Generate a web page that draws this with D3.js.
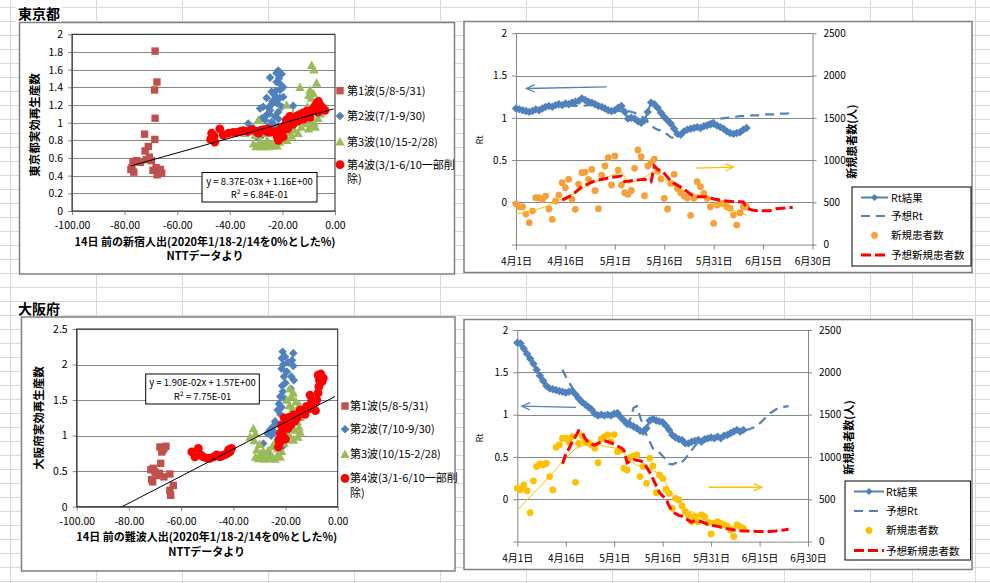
<!DOCTYPE html>
<html><head><meta charset="utf-8">
<script src="https://cdn.jsdelivr.net/npm/d3@7"></script>
<style>
body{margin:0;background:#fff;}
svg{display:block;font-family:"Noto Sans CJK JP","Noto Sans",sans-serif;}
</style></head><body>
<svg id="c" width="990" height="583"></svg>
<script>
// ---------------- DATA ----------------
const xTickVals=[-100,-80,-60,-40,-20,0];
const tokyoYTicks=[0,0.2,0.4,0.6,0.8,1,1.2,1.4,1.6,1.8,2];
const osakaYTicks=[0,0.5,1,1.5,2,2.5];
const waveNamesTokyo=["第1波(5/8-5/31)","第2波(7/1-9/30)","第3波(10/15-2/28)","第4波(3/1-6/10一部削","除)"];
const waveNamesOsaka=["第1波(5/8-5/31)","第2波(7/10-9/30)","第3波(10/15-2/28)","第4波(3/1-6/10一部削","除)"];

const tokyoWave1=[[-68.4,1.81],[-67.7,1.46],[-68.6,1.37],[-68.4,1.05],[-72.4,0.87],[-68.5,0.81],[-71.0,0.73],[-72.2,0.68],[-70.6,0.61],[-71.8,0.58],[-69.8,0.57],[-75.4,0.57],[-76.8,0.56],[-74.0,0.55],[-77.6,0.47],[-76.5,0.44],[-77.2,0.49],[-69.2,0.46],[-67.2,0.44],[-65.9,0.43],[-67.6,0.41],[-66.4,0.47],[-68.0,0.49]];
const tokyoWave2=[[-21.6,1.59],[-20.3,1.55],[-22.3,1.56],[-24.7,1.51],[-22.2,1.46],[-20.6,1.43],[-19.7,1.40],[-20.9,1.37],[-24.1,1.35],[-23.0,1.31],[-26.0,1.28],[-23.2,1.26],[-21.0,1.28],[-19.7,1.29],[-22.0,1.22],[-24.0,1.21],[-27.3,1.18],[-28.5,1.16],[-24.7,1.14],[-21.6,1.12],[-20.2,1.18],[-26.0,1.09],[-22.8,1.07],[-25.0,1.10],[-26.6,1.03],[-24.1,1.01],[-21.5,1.04],[-23.3,0.98],[-33.0,0.99],[-31.1,0.94],[-29.8,0.84],[-27.5,0.86],[-25.6,0.95],[-15.9,1.19],[-22.6,0.92],[-27.8,1.05],[-23.8,1.24],[-25.3,1.17],[-22.5,1.36],[-21.3,1.50]];
const tokyoWave3=[[-31.0,0.76],[-30.0,0.73],[-29.0,0.75],[-28.2,0.73],[-27.5,0.76],[-26.8,0.73],[-26.0,0.75],[-25.2,0.73],[-24.5,0.76],[-23.8,0.74],[-23.0,0.77],[-22.0,0.74],[-28.5,0.79],[-25.8,0.80],[-21.0,0.78],[-20.0,0.82],[-19.0,0.83],[-18.2,0.80],[-34.2,0.88],[-33.0,0.90],[-30.4,0.86],[-29.2,1.03],[-27.0,0.88],[-8.9,1.65],[-8.0,1.60],[-7.0,1.45],[-13.3,1.40],[-9.5,1.37],[-10.0,1.31],[-9.0,1.28],[-8.2,1.33],[-18.4,1.20],[-16.0,1.10],[-14.5,1.05],[-12.5,1.08],[-11.0,1.04],[-17.0,0.89],[-15.5,0.92],[-14.0,0.88],[-12.8,0.95],[-10.0,0.93],[-9.0,0.97],[-8.0,1.00],[-7.5,0.95],[-11.5,0.99],[-6.5,1.05],[-5.5,1.10],[-16.5,0.85],[-13.5,1.00],[-10.5,1.18],[-8.5,1.20],[-7.0,1.15]];
const tokyoWave4=[[-46.9,0.88],[-47.3,0.81],[-45.7,0.78],[-46.0,0.85],[-43.8,0.93],[-42.5,0.86],[-38.7,0.89],[-37.2,0.89],[-36.0,0.90],[-34.9,0.91],[-31.7,0.92],[-30.0,0.90],[-28.5,0.91],[-27.3,0.92],[-26.0,0.90],[-24.8,0.89],[-23.5,0.90],[-22.5,0.88],[-22.0,0.84],[-21.2,0.82],[-20.5,0.86],[-19.7,0.84],[-20.0,0.90],[-19.1,0.97],[-18.5,1.03],[-17.8,1.00],[-17.2,1.07],[-16.3,1.06],[-15.3,1.05],[-14.2,1.08],[-13.3,1.09],[-12.1,1.11],[-11.4,1.07],[-10.8,1.13],[-10.0,1.10],[-8.9,1.14],[-8.2,1.16],[-7.6,1.18],[-6.9,1.22],[-6.3,1.24],[-5.8,1.20],[-5.1,1.18],[-4.5,1.16],[-3.8,1.14],[-5.7,1.14],[-6.5,1.12],[-9.5,1.06],[-12.0,1.04],[-14.0,1.02],[-16.0,0.98],[-18.0,0.93],[-21.5,0.80],[-20.8,0.93],[-25.5,0.93],[-29.0,0.88],[-33.2,0.90],[-40.5,0.88]];

const osakaWave1=[[-68.1,0.84],[-66.6,0.82],[-65.8,0.85],[-67.4,0.77],[-67.0,0.80],[-67.8,0.61],[-70.7,0.54],[-71.6,0.52],[-70.0,0.49],[-68.3,0.47],[-69.5,0.44],[-66.6,0.42],[-64.3,0.46],[-71.3,0.38],[-70.9,0.35],[-63.0,0.30],[-64.3,0.23],[-64.0,0.16]];
const osakaWave2=[[-21.1,2.18],[-17.0,2.16],[-20.2,2.11],[-21.4,2.09],[-17.5,2.06],[-19.0,2.03],[-20.8,2.00],[-17.0,1.98],[-21.5,1.94],[-19.5,1.90],[-17.8,1.83],[-20.6,1.83],[-16.8,1.78],[-20.0,1.74],[-21.3,1.70],[-18.0,1.66],[-21.0,1.62],[-22.0,1.55],[-20.3,1.52],[-22.5,1.45],[-21.5,1.40],[-23.0,1.36],[-22.0,1.30],[-24.0,1.20],[-25.0,1.12],[-26.0,1.08],[-27.0,1.03],[-25.5,1.00],[-24.2,1.05],[-28.5,0.89],[-27.0,0.74],[-23.0,0.95],[-21.0,0.85],[-19.0,1.00],[-22.5,1.15]];
const osakaWave3=[[-32.3,1.10],[-31.5,1.03],[-33.6,0.98],[-32.0,0.93],[-30.0,0.88],[-31.0,0.80],[-29.5,0.75],[-31.5,0.70],[-30.5,0.68],[-29.0,0.70],[-28.0,0.67],[-27.0,0.72],[-26.0,0.68],[-25.0,0.70],[-24.0,0.67],[-23.0,0.73],[-22.0,0.70],[-28.5,0.78],[-26.5,0.80],[-25.0,0.85],[-24.0,0.90],[-23.0,0.82],[-21.5,0.78],[-20.5,0.90],[-19.5,0.95],[-18.3,1.66],[-17.0,1.60],[-17.8,1.55],[-19.5,1.50],[-16.0,1.48],[-14.7,1.43],[-18.5,1.42],[-17.2,1.38],[-16.0,1.33],[-14.4,1.26],[-15.5,1.20],[-14.8,1.12],[-14.4,1.05],[-16.5,1.08],[-17.0,0.94],[-18.5,1.00],[-20.0,1.05],[-19.0,1.15],[-17.5,1.25],[-15.2,0.98]];
const osakaWave4=[[-55.9,0.77],[-53.4,0.82],[-54.7,0.70],[-51.5,0.70],[-52.5,0.73],[-50.0,0.68],[-49.0,0.68],[-47.5,0.70],[-46.4,0.73],[-45.2,0.70],[-44.2,0.72],[-43.3,0.73],[-42.3,0.75],[-41.3,0.77],[-40.7,0.82],[-41.8,0.80],[-22.7,0.84],[-22.2,0.90],[-22.5,0.93],[-21.8,0.98],[-22.0,1.03],[-21.3,1.08],[-20.8,1.12],[-20.0,1.17],[-19.5,1.22],[-21.5,1.15],[-20.5,1.25],[-18.5,1.26],[-17.5,1.22],[-16.5,1.20],[-17.0,1.29],[-15.5,1.25],[-14.4,1.36],[-13.0,1.33],[-11.9,1.41],[-10.8,1.38],[-10.0,1.48],[-10.6,1.57],[-9.0,1.45],[-8.0,1.50],[-7.5,1.60],[-7.2,1.69],[-7.0,1.78],[-7.5,1.85],[-6.5,1.87],[-5.5,1.81],[-6.0,1.76],[-8.5,1.35],[-12.5,1.30],[-19.0,1.10],[-18.0,1.15],[-21.0,1.00],[-20.0,0.95]];

// trendlines (from the chart's own equations)
const tokyoTrend={slope:8.37e-3,intercept:1.16,from:-77.5,to:-0.5,eq:"y = 8.37E-03x + 1.16E+00",r2:"R² = 6.84E-01"};
const osakaTrend={slope:1.90e-2,intercept:1.57,from:-82.6,to:-1,eq:"y = 1.90E-02x + 1.57E+00",r2:"R² = 7.75E-01"};

// Rt charts (day 0 = 4月1日)
const dateTickDays=[0,15,30,45,60,75,90];
const dateTickLabels=["4月1日","4月16日","5月1日","5月16日","5月31日","6月15日","6月30日"];
const rtTickVals=[-0.5,0,0.5,1,1.5,2];
const caseTickVals=[0,500,1000,1500,2000,2500];
const rtLegend=["Rt結果","予想Rt","新規患者数","予想新規患者数"];

const tokyoRt=[1.11,1.10,1.09,1.08,1.07,1.08,1.10,1.09,1.11,1.13,1.14,1.13,1.15,1.16,1.15,1.17,1.16,1.18,1.19,1.20,1.23,1.21,1.19,1.18,1.16,1.14,1.13,1.11,1.09,1.08,1.09,1.12,1.14,1.07,0.99,1.00,0.99,0.96,0.94,0.97,1.07,1.18,1.16,1.12,1.06,1.01,0.97,0.93,0.87,0.81,0.80,0.84,0.86,0.87,0.88,0.89,0.88,0.90,0.91,0.92,0.93,0.91,0.89,0.87,0.84,0.82,0.81,0.82,0.83,0.86,0.88];
const tokyoRtPred=[[16,1.15],[18,1.14],[20,1.14],[22,1.15],[24,1.15],[26,1.13],[28,1.10],[30,1.09],[32,1.08],[34,1.08],[36,1.06],[37,1.04],[38,1.02],[39,0.99],[40,0.95],[41,0.91],[42,0.88],[43,0.86],[44,0.85],[45,0.83],[46,0.80],[47,0.77],[48,0.76],[49,0.78],[50,0.80],[52,0.84],[54,0.87],[56,0.90],[58,0.94],[60,0.97],[62,0.99],[64,1.00],[66,1.01],[68,1.02],[70,1.02],[72,1.03],[74,1.03],[76,1.04],[78,1.04],[80,1.05],[82,1.05],[84,1.06]];
const tokyoCases=[480,448,448,361,259,397,555,555,535,574,421,298,515,586,732,673,772,535,417,716,851,858,772,890,638,425,823,930,1028,705,1048,882,705,614,594,640,902,1119,1040,578,930,969,1012,870,776,547,421,724,831,665,614,574,551,346,547,744,685,606,547,448,251,468,488,488,448,429,349,231,377,448,448];
const tokyoCasesAvg=[[0,360],[3,385],[6,410],[9,450],[12,510],[15,560],[18,610],[21,680],[24,740],[27,790],[30,830],[32,860],[33,800],[34,725],[36,750],[38,770],[40,820],[42,880],[44,800],[46,750],[48,690],[50,655],[53,610],[56,580],[59,490],[62,460],[65,415],[68,380],[70,345]];
const tokyoCasesPred=[[14,527],[17,586],[20,685],[23,740],[25,764],[27,780],[29,795],[31,805],[32,811],[33,744],[35,756],[37,765],[39,772],[41,744],[42,930],[43,890],[45,843],[47,750],[48,724],[50,680],[52,626],[54,567],[56,567],[58,567],[60,540],[62,527],[64,515],[66,507],[68,507],[69,505],[70,429],[72,405],[74,400],[77,401],[79,425],[82,435],[84,440]];
const tokyoArrows=[{x1:27.5,v1:1.366,x2:3.2,v2:1.347,kind:"rt"},{x1:54.6,v1:905,x2:66.0,v2:917,kind:"case"}];

const osakaRt=[1.85,1.84,1.78,1.72,1.66,1.60,1.53,1.46,1.40,1.34,1.31,1.30,1.29,1.28,1.27,1.26,1.27,1.28,1.24,1.19,1.15,1.12,1.09,1.06,1.01,0.99,1.00,0.99,1.00,0.99,1.01,1.02,0.97,0.93,0.89,0.88,0.86,0.84,0.81,0.80,0.84,0.93,0.95,0.93,0.92,0.91,0.87,0.82,0.76,0.73,0.71,0.70,0.66,0.66,0.68,0.69,0.70,0.68,0.71,0.72,0.73,0.72,0.74,0.72,0.75,0.76,0.78,0.80,0.82,0.80,0.82];
const osakaRtPred=[[14,1.53],[15,1.45],[16,1.38],[17,1.32],[18,1.26],[20,1.16],[22,1.09],[24,1.02],[26,1.00],[28,0.99],[30,1.00],[32,0.96],[34,0.88],[35,0.95],[36,1.08],[37,1.10],[38,0.98],[39,0.86],[40,0.76],[41,0.68],[42,0.60],[43,0.57],[44,0.55],[45,0.51],[46,0.47],[47,0.42],[48,0.41],[49,0.43],[50,0.41],[51,0.44],[52,0.48],[53,0.53],[54,0.58],[55,0.63],[56,0.67],[58,0.70],[60,0.72],[62,0.73],[64,0.75],[66,0.77],[68,0.80],[70,0.81],[72,0.83],[74,0.86],[76,0.93],[78,1.01],[80,1.06],[82,1.09],[84,1.10]];
const osakaCases=[630,610,669,602,342,716,886,917,905,925,768,610,1114,1142,1221,1221,1181,1240,700,1161,1248,1181,1169,1142,1102,933,1213,1240,1260,1181,1264,1063,1083,866,846,996,1010,1024,768,886,689,984,894,578,787,748,618,570,393,511,492,421,354,314,235,295,235,314,295,224,90,216,235,216,196,184,137,60,196,176,157];
const osakaCasesAvg=[[0,370],[3,490],[7,650],[11,810],[14,945],[16,1024],[18,1100],[20,1130],[22,1140],[25,1140],[28,1120],[31,1100],[33,1070],[34,1000],[35,950],[37,900],[40,880],[43,820],[45,760],[47,620],[49,500],[51,430],[53,370],[56,320],[60,250],[64,200],[68,160],[70,140]];
const osakaCasesPred=[[14,921],[15,1030],[16,1100],[17,1180],[18,1240],[19,1310],[20,1290],[21,1220],[22,1170],[23,1150],[24,1140],[25,1160],[26,1180],[27,1190],[28,1180],[29,1170],[30,1150],[31,1130],[32,1110],[33,1080],[34,930],[35,950],[36,970],[37,960],[38,955],[39,940],[40,880],[41,820],[42,740],[43,660],[44,580],[45,540],[46,510],[47,420],[48,360],[49,330],[50,310],[51,300],[52,280],[53,250],[54,230],[55,250],[56,240],[57,235],[58,220],[59,205],[60,195],[62,180],[64,160],[66,145],[68,130],[70,125],[72,125],[74,120],[76,118],[78,120],[80,125],[82,135],[84,145]];
const osakaArrows=[{x1:18.2,v1:1.087,x2:1.4,v2:1.100,kind:"rt"},{x1:59.2,v1:642,x2:75.7,v2:642,kind:"case"}];

// ---------------- DRAWING ----------------
const svg=d3.select("#c");
const FONT='"Noto Sans CJK JP","Noto Sans",sans-serif';
svg.append("rect").attr("width",990).attr("height",583).attr("fill","#fff");
// spreadsheet cell grid
const sheet=svg.append("g").attr("stroke","#d9d9d9").attr("stroke-width",1).attr("shape-rendering","crispEdges");
[10,96,182,268,354,440,526,612,698,784,870,912,975].forEach(cx=>sheet.append("line").attr("x1",cx+0.5).attr("x2",cx+0.5).attr("y1",0).attr("y2",583));
d3.range(0,42).forEach(k=>sheet.append("line").attr("x1",0).attr("x2",990).attr("y1",7+14*k+0.5).attr("y2",7+14*k+0.5));

function box(x,y,w,h){
  svg.append("rect").attr("x",x).attr("y",y).attr("width",w).attr("height",h).attr("fill","#fff").attr("stroke","#7f7f7f").attr("stroke-width",1.5);
}
function title(t,x,y){
  svg.append("rect").attr("x",x-2).attr("y",y-12).attr("width",46).attr("height",15).attr("fill","#fff");
  svg.append("text").attr("x",x).attr("y",y).text(t).attr("font-size",14).attr("font-weight",700).attr("fill","#000");
}
const markers={
  square:(s)=>`M${-s},${-s}h${2*s}v${2*s}h${-2*s}z`,
  diamond:(s)=>`M0,${-s}L${s},0L0,${s}L${-s},0Z`,
  triangle:(s)=>`M0,${-s}L${s},${s*0.8}L${-s},${s*0.8}Z`,
};
const waveStyle=[{shape:"square",s:3.7,c:"#C0504D"},{shape:"diamond",s:4.3,c:"#4F81BD"},{shape:"triangle",s:4.7,c:"#9BBB59"},{shape:"circle",s:4.4,c:"#FF0000"}];
function mark(g,st,cx,cy){
  if(st.shape==="circle") g.append("circle").attr("cx",cx).attr("cy",cy).attr("r",st.s).attr("fill",st.c);
  else g.append("path").attr("d",markers[st.shape](st.s)).attr("transform",`translate(${cx},${cy})`).attr("fill",st.c);
}
function styleAxis(a,size){
  a.attr("font-family",FONT).attr("font-size",size);
  a.selectAll("text").attr("fill","#000");
  a.selectAll("line,path").attr("stroke","#868686");
}

function scatter(cfg){
  const g=svg.append("g");
  const x=d3.scaleLinear().domain([-100,0]).range([cfg.l,cfg.r]);
  const y=d3.scaleLinear().domain([0,cfg.yMax]).range([cfg.b,cfg.t]);
  g.selectAll(".gl").data(cfg.yTicks).join("line").attr("x1",cfg.l).attr("x2",cfg.r)
    .attr("y1",d=>Math.round(y(d))+0.5).attr("y2",d=>Math.round(y(d))+0.5).attr("stroke","#868686");
  const ax=g.append("g").attr("transform",`translate(0,${cfg.b})`)
    .call(d3.axisBottom(x).tickValues(xTickVals).tickFormat(d=>d.toFixed(2)).tickSize(4).tickSizeOuter(0).tickPadding(7));
  const ay=g.append("g").attr("transform",`translate(${cfg.l},0)`)
    .call(d3.axisLeft(y).tickValues(cfg.yTicks).tickFormat(d=>String(+d.toFixed(1))).tickSize(4).tickSizeOuter(0).tickPadding(5));
  styleAxis(ax,10.5);styleAxis(ay,10.5);
  g.append("rect").attr("x",cfg.l).attr("y",cfg.t).attr("width",cfg.r-cfg.l).attr("height",cfg.b-cfg.t).attr("fill","none").attr("stroke","#222");
  cfg.waves.forEach((w,i)=>{w.forEach(p=>mark(g,waveStyle[i],x(p[0]),y(p[1])));});
  const t=cfg.trend;
  g.append("line").attr("x1",x(t.from)).attr("y1",y(t.slope*t.from+t.intercept)).attr("x2",x(t.to)).attr("y2",y(t.slope*t.to+t.intercept)).attr("stroke","#000").attr("stroke-width",1);
  // equation box
  const eb=cfg.eqBox;
  g.append("rect").attr("x",eb.x).attr("y",eb.y).attr("width",eb.w).attr("height",eb.h).attr("fill","#fff").attr("stroke","#000");
  g.append("text").attr("x",eb.x+eb.w/2).attr("y",eb.y+12).attr("text-anchor","middle").attr("font-size",9.5).text(t.eq);
  g.append("text").attr("x",eb.x+eb.w/2).attr("y",eb.y+25.5).attr("text-anchor","middle").attr("font-size",9.5).text(t.r2);
  // titles
  g.append("text").attr("x",cfg.xt[0]).attr("y",cfg.xt[1]).attr("text-anchor","middle").attr("font-size",11).attr("font-weight",700).text(cfg.xTitle);
  g.append("text").attr("x",cfg.xt[0]).attr("y",cfg.xt[1]+14.5).attr("text-anchor","middle").attr("font-size",11).attr("font-weight",700).text("NTTデータより");
  g.append("text").attr("transform",`translate(${cfg.yt[0]},${cfg.yt[1]}) rotate(-90)`).attr("text-anchor","middle").attr("font-size",11.5).attr("font-weight",700).text(cfg.yTitle);
  // legend
  const lg=cfg.legend;
  lg.ys.forEach((ly,i)=>{
    mark(g,waveStyle[i],lg.mx,ly);
    g.append("text").attr("x",lg.tx).attr("y",ly+4).attr("font-size",11).text(cfg.names[i]);
  });
  g.append("text").attr("x",lg.tx).attr("y",lg.ys[3]+14.5+4).attr("font-size",11).text(cfg.names[4]);
}

function arrow(g,x1,y1,x2,y2,color){
  g.append("line").attr("x1",x1).attr("y1",y1).attr("x2",x2).attr("y2",y2).attr("stroke",color).attr("stroke-width",1.3);
  const a=Math.atan2(y2-y1,x2-x1),L=9,A=0.42;
  const p1=[x2-L*Math.cos(a-A),y2-L*Math.sin(a-A)],p2=[x2-L*Math.cos(a+A),y2-L*Math.sin(a+A)];
  g.append("path").attr("d",`M${p1}L${x2},${y2}L${p2}`).attr("fill","none").attr("stroke",color).attr("stroke-width",1.3);
}

function rtChart(cfg){
  const g=svg.append("g");
  const x=d3.scaleLinear().domain([0,90]).range([cfg.l,cfg.r]);
  const y=d3.scaleLinear().domain([-0.5,2]).range([cfg.b,cfg.t]);
  const y2=d3.scaleLinear().domain([0,2500]).range([cfg.b,cfg.t]);
  g.selectAll(".gl").data(rtTickVals.slice(1)).join("line").attr("x1",cfg.l).attr("x2",cfg.r)
    .attr("y1",d=>Math.round(y(d))+0.5).attr("y2",d=>Math.round(y(d))+0.5).attr("stroke","#868686");
  const ax=g.append("g").attr("transform",`translate(0,${cfg.b})`)
    .call(d3.axisBottom(x).tickValues(dateTickDays).tickFormat((d,i)=>dateTickLabels[i]).tickSize(5).tickSizeOuter(0).tickPadding(8));
  const ay=g.append("g").attr("transform",`translate(${cfg.l},0)`)
    .call(d3.axisLeft(y).tickValues(rtTickVals).tickFormat(d=>d<0?"":String(d)).tickSize(4).tickSizeOuter(0).tickPadding(5));
  const ay2=g.append("g").attr("transform",`translate(${cfg.r},0)`)
    .call(d3.axisRight(y2).tickValues(caseTickVals).tickFormat(d=>String(d)).tickSize(4).tickSizeOuter(0).tickPadding(7));
  styleAxis(ax,10);styleAxis(ay,10);styleAxis(ay2,10);
  g.append("text").attr("transform",`translate(${cfg.rtTitle[0]},${cfg.rtTitle[1]}) rotate(-90)`).attr("text-anchor","middle").attr("font-size",9).text("Rt");
  g.append("text").attr("transform",`translate(${cfg.caseTitle[0]},${cfg.caseTitle[1]}) rotate(-90)`).attr("text-anchor","middle").attr("font-size",11).attr("font-weight",700).text("新規患者数(人)");
  const blue="#4F81BD";
  // Rt result
  const lineRt=d3.line().x((d,i)=>x(i)).y(d=>y(d));
  g.append("path").attr("d",lineRt(cfg.rt)).attr("fill","none").attr("stroke",blue).attr("stroke-width",2.2);
  cfg.rt.forEach((v,i)=>g.append("path").attr("d",markers.diamond(4.2)).attr("transform",`translate(${x(i)},${y(v)})`).attr("fill",blue));
  // predicted Rt
  const lineP=d3.line().x(d=>x(d[0])).y(d=>y(d[1]));
  g.append("path").attr("d",lineP(cfg.rtPred)).attr("fill","none").attr("stroke","#4F81BD").attr("stroke-width",2.2).attr("stroke-dasharray","9,6");
  // cases
  cfg.cases.forEach((v,i)=>g.append("circle").attr("cx",x(i)).attr("cy",y2(v)).attr("r",3.4).attr("fill",cfg.dotColor));
  const lineC=d3.line().x(d=>x(d[0])).y(d=>y2(d[1]));
  g.append("path").attr("d",lineC(cfg.avg)).attr("fill","none").attr("stroke","#FFC000").attr("stroke-width",1);
  g.append("path").attr("d",lineC(cfg.pred)).attr("fill","none").attr("stroke","#FF0000").attr("stroke-width",3).attr("stroke-dasharray","10,4");
  // arrows
  cfg.arrows.forEach(a=>{
    if(a.kind==="rt") arrow(g,x(a.x1),y(a.v1),x(a.x2),y(a.v2),"#4F81BD");
    else arrow(g,x(a.x1),y2(a.v1),x(a.x2),y2(a.v2),"#FFC000");
  });
  // legend
  const L=cfg.legend;
  g.append("rect").attr("x",L.x).attr("y",L.y).attr("width",L.w).attr("height",L.h).attr("fill","#fff").attr("stroke","#000");
  const sx1=L.sx1,sx2=L.sx2,mid=(sx1+sx2)/2;
  L.ys.forEach((ly,i)=>{
    if(i===0){g.append("line").attr("x1",sx1).attr("x2",sx2).attr("y1",ly).attr("y2",ly).attr("stroke",blue).attr("stroke-width",2);
      g.append("path").attr("d",markers.diamond(3.6)).attr("transform",`translate(${mid},${ly})`).attr("fill",blue);}
    if(i===1) g.append("line").attr("x1",sx1).attr("x2",sx2).attr("y1",ly).attr("y2",ly).attr("stroke",blue).attr("stroke-width",2.2).attr("stroke-dasharray","9,6");
    if(i===2) g.append("circle").attr("cx",mid).attr("cy",ly).attr("r",3.4).attr("fill",cfg.dotColor);
    if(i===3) g.append("line").attr("x1",sx1).attr("x2",sx2).attr("y1",ly).attr("y2",ly).attr("stroke","#FF0000").attr("stroke-width",3).attr("stroke-dasharray","10,4");
    g.append("text").attr("x",L.tx).attr("y",ly+4).attr("font-size",10.5).text(rtLegend[i]);
  });
}

// ---- Tokyo ----
title("東京都",18,19);
box(19.5,22.5,435,251.5);
scatter({l:72,r:335,t:34.3,b:211,yMax:2,yTicks:tokyoYTicks,waves:[tokyoWave1,tokyoWave2,tokyoWave3,tokyoWave4],
  trend:tokyoTrend,eqBox:{x:202,y:172.5,w:115,h:29.5},xt:[205,245.5],yt:[39,125],
  xTitle:"14日 前の新宿人出(2020年1/18-2/14を0%とした%)",yTitle:"東京都実効再生産数",
  legend:{mx:340,tx:347,ys:[90.7,116,141.7,164.7]},names:waveNamesTokyo});
box(464,21.5,508,251);
rtChart({l:516,r:812.5,t:33.3,b:244.6,rt:tokyoRt,rtPred:tokyoRtPred,cases:tokyoCases,avg:tokyoCasesAvg,pred:tokyoCasesPred,
  dotColor:"#F7A03A",arrows:tokyoArrows,rtTitle:[483,140],caseTitle:[856,141.7],
  legend:{x:852,y:187,w:119,h:79,sx1:861,sx2:888,tx:891,ys:[197.5,216,235.4,255]}});

// ---- Osaka ----
title("大阪府",18,314);
box(21.5,317,433.5,254);
scatter({l:76.7,r:337.7,t:329,b:506.7,yMax:2.5,yTicks:osakaYTicks,waves:[osakaWave1,osakaWave2,osakaWave3,osakaWave4],
  trend:osakaTrend,eqBox:{x:145.7,y:374,w:113.6,h:30},xt:[206.7,541],yt:[43.3,418],
  xTitle:"14日 前の難波人出(2020年1/18-2/14を0%とした%)",yTitle:"大阪府実効再生産数",
  legend:{mx:345,tx:350,ys:[406,429.3,454.3,478.3]},names:waveNamesOsaka});
box(464,319.5,508,250);
rtChart({l:517.3,r:808,t:330,b:541.6,rt:osakaRt,rtPred:osakaRtPred,cases:osakaCases,avg:osakaCasesAvg,pred:osakaCasesPred,
  dotColor:"#FFC000",arrows:osakaArrows,rtTitle:[483,438],caseTitle:[853,437.5],
  legend:{x:845,y:481,w:125.5,h:79,sx1:854,sx2:884,tx:886,ys:[491.5,511,530.4,550.6]}});
</script>
</body></html>
